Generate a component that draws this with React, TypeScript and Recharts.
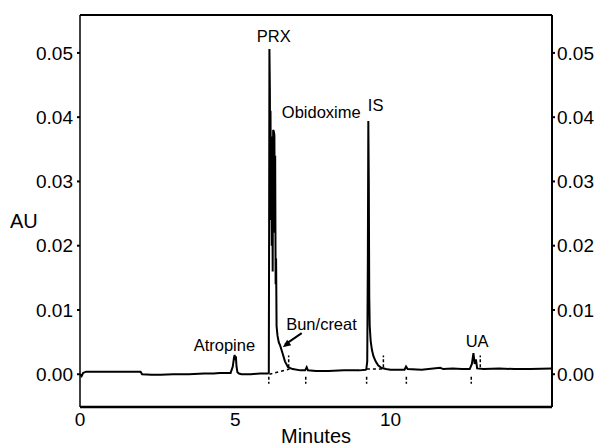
import { LineChart, Line, XAxis, YAxis, ReferenceLine, ReferenceDot } from "recharts";

const FONT = '"Liberation Sans", Arial, Helvetica, sans-serif';

// chromatogram trace, minutes vs AU
const BASE_TIME = [0, 0.05, 0.1, 0.2, 0.5, 1.0, 1.5, 1.95, 2.0, 2.3, 2.6, 3.0, 3.5, 4.0, 4.3, 4.5, 4.7, 4.85, 4.92, 4.96, 4.98, 5.0, 5.02, 5.04, 5.07, 5.12, 5.2, 5.5, 5.8, 6.0, 6.05];
const BASE_AU = [0, -0.0003, 0.0002, 0.0004, 0.0004, 0.0004, 0.0004, 0.0004, 0.0, -0.0001, -0.0001, 0.0, 0.0, 0.0001, 0.0001, 0.0002, 0.0002, 0.0002, 0.0012, 0.0026, 0.003, 0.0022, 0.0028, 0.0012, 0.0003, 0.0001, 0.0, 0.0, 0.0001, 0.0001, 0.0001];

const PRX_TIME = [6.08, 6.09, 6.1, 6.115, 6.125, 6.135, 6.15, 6.16, 6.175, 6.19, 6.205, 6.22, 6.24, 6.26, 6.275, 6.285, 6.3, 6.315, 6.33, 6.36, 6.4, 6.45, 6.52, 6.6, 6.7, 6.85, 7.1, 7.25, 7.3, 7.34, 7.6, 8.0, 8.5, 9.0, 9.2];
const PRX_AU = [0.0002, 0.022, 0.0506, 0.044, 0.03, 0.041, 0.024, 0.037, 0.02, 0.034, 0.016, 0.038, 0.0378, 0.0372, 0.022, 0.034, 0.014, 0.018, 0.0075, 0.006, 0.005, 0.0044, 0.0033, 0.002, 0.0011, 0.0008, 0.0006, 0.0006, 0.0011, 0.0006, 0.0005, 0.0005, 0.0006, 0.0006, 0.0007];

const IS_TIME = [9.22, 9.25, 9.27, 9.285, 9.3, 9.315, 9.33, 9.36, 9.4, 9.45, 9.52, 9.6, 9.7, 9.85, 10.0, 10.45, 10.5, 10.55, 11.0, 11.6, 11.7, 12.0, 12.3, 12.55, 12.62, 12.67, 12.71, 12.75, 12.79, 13.0, 13.5, 14.0, 14.5, 15.2];
const IS_AU = [0.0008, 0.002, 0.018, 0.0394, 0.03, 0.012, 0.0075, 0.0052, 0.0038, 0.0028, 0.002, 0.0014, 0.001, 0.0008, 0.0007, 0.0007, 0.0012, 0.0008, 0.0007, 0.001, 0.0008, 0.0009, 0.0008, 0.0008, 0.0016, 0.0033, 0.0016, 0.0023, 0.0009, 0.0008, 0.0009, 0.0008, 0.0008, 0.0009];

const X_TICKS = [0, 5, 10];
const Y_TICKS = [0, 0.01, 0.02, 0.03, 0.04, 0.05];
const X_DOMAIN = [0, 15.2];
const Y_DOMAIN = [-0.0051, 0.0559];

// integration marks (minutes)
const MARKS_BELOW = [6.08, 7.27, 9.23, 10.51, 12.6];
const MARKS_ABOVE = [6.72, 9.77, 12.89];

const PEAK_LABELS = [
  { t: 6.24, au: 0.0517, text: "PRX", anchor: "middle" },
  { t: 6.5, au: 0.0399, text: "Obidoxime", anchor: "start" },
  { t: 9.27, au: 0.041, text: "IS", anchor: "start" },
  { t: 3.66, au: 0.0036, text: "Atropine", anchor: "start" },
  { t: 6.64, au: 0.0069, text: "Bun/creat", anchor: "start" },
  { t: 12.42, au: 0.0042, text: "UA", anchor: "start" },
];

const times = [...BASE_TIME, ...PRX_TIME, ...IS_TIME];
const values = [...BASE_AU, ...PRX_AU, ...IS_AU];
const data = times.map((t, i) => ({ t, au: values[i] }));

const arrowHead = (p: any) => {
  const dx = -19, dy = 14;
  const len = Math.hypot(dx, dy);
  const ux = dx / len, uy = dy / len;
  const bx = p.cx - ux * 8, by = p.cy - uy * 8;
  const nx = -uy * 3.5, ny = ux * 3.5;
  return (
    <polygon
      points={`${p.cx},${p.cy} ${bx + nx},${by + ny} ${bx - nx},${by - ny}`}
      fill="#000"
    />
  );
};

export default function App() {
  return (
    <div style={{ position: "absolute", left: 0, top: 0, background: "#fff" }}>
      <LineChart
        width={595}
        height={446}
        data={data}
        margin={{ top: 15, right: 0, bottom: 0, left: 0 }}
        style={{ fontFamily: FONT }}
      >
        <XAxis
          dataKey="t"
          type="number"
          domain={X_DOMAIN}
          ticks={X_TICKS}
          allowDataOverflow
          height={39}
          axisLine={{ stroke: "#000", strokeWidth: 2.5 }}
          tickLine={false}
          tickSize={4}
          tick={{ fill: "#000", fontSize: 19, fontFamily: FONT }}
          label={{ value: "Minutes", position: "insideBottom", offset: 3, fill: "#000", fontSize: 20, fontFamily: FONT }}
        />
        <YAxis
          type="number"
          domain={Y_DOMAIN}
          ticks={Y_TICKS}
          allowDataOverflow
          width={80}
          axisLine={{ stroke: "#000", strokeWidth: 1.5 }}
          tickLine={{ stroke: "#000", strokeWidth: 2 }}
          tickSize={3}
          tickMargin={4}
          tickFormatter={(v) => v.toFixed(2)}
          tick={{ fill: "#000", fontSize: 19, fontFamily: FONT }}
          label={{ value: "AU", position: "insideLeft", offset: 10, dy: 10, fill: "#000", fontSize: 20, fontFamily: FONT }}
        />
        <YAxis
          yAxisId="right"
          orientation="right"
          type="number"
          domain={Y_DOMAIN}
          ticks={Y_TICKS}
          allowDataOverflow
          width={43}
          axisLine={{ stroke: "#000", strokeWidth: 2 }}
          tickLine={{ stroke: "#000", strokeWidth: 2 }}
          tickSize={3}
          tickMargin={2}
          tickFormatter={(v) => v.toFixed(2)}
          tick={{ fill: "#000", fontSize: 19, fontFamily: FONT }}
        />
        <ReferenceLine y={Y_DOMAIN[1]} stroke="#000" strokeWidth={2} />
        <ReferenceLine segment={[{ x: 6.1, y: 0.0 }, { x: 6.75, y: 0.0008 }]} stroke="#000" strokeWidth={1.5} strokeDasharray="3 3" />
        <ReferenceLine segment={[{ x: 9.24, y: 0.0008 }, { x: 9.75, y: 0.0008 }]} stroke="#000" strokeWidth={1.5} strokeDasharray="3 3" />
        {MARKS_BELOW.map((t) => (
          <ReferenceLine key={"b" + t} segment={[{ x: t, y: -0.0004 }, { x: t, y: -0.0015 }]} stroke="#000" strokeWidth={1.5} strokeDasharray="3 2" />
        ))}
        {MARKS_ABOVE.map((t) => (
          <ReferenceLine key={"a" + t} segment={[{ x: t, y: 0.0011 }, { x: t, y: 0.0029 }]} stroke="#000" strokeWidth={1.5} strokeDasharray="3 2" />
        ))}
        <Line
          dataKey="au"
          type="linear"
          stroke="#000"
          strokeWidth={2}
          dot={false}
          isAnimationActive={false}
        />
        <ReferenceLine segment={[{ x: 7.14, y: 0.0064 }, { x: 6.6, y: 0.0046 }]} stroke="#000" strokeWidth={2} />
        <ReferenceDot x={6.53} y={0.0042} r={0} shape={arrowHead} />
        {PEAK_LABELS.map((l) => (
          <ReferenceDot
            key={l.text}
            x={l.t}
            y={l.au}
            r={0}
            shape={(p: any) => (
              <text x={p.cx} y={p.cy} textAnchor={l.anchor} fontSize={16.5} fontFamily={FONT} fill="#000">
                {l.text}
              </text>
            )}
          />
        ))}
      </LineChart>
    </div>
  );
}
